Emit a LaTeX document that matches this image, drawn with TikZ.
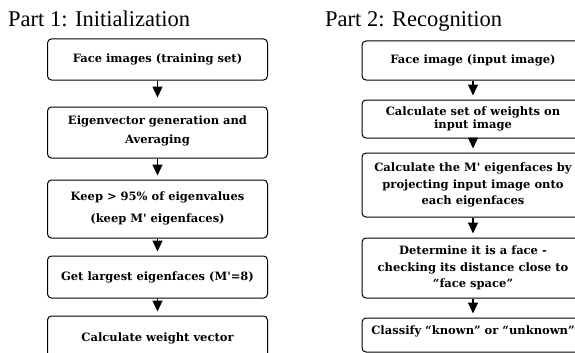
\documentclass[tikz,border=0pt]{standalone}
\usepackage{fontspec}
\setmainfont{Liberation Serif}
\newfontfamily\boxfont{DejaVu Serif}
\usetikzlibrary{arrows.meta}
\begin{document}
\begin{tikzpicture}[x=1pt,y=-1pt,
  titlestyle/.style={font=\fontsize{22.5}{24}\selectfont, anchor=base west, inner sep=0pt},
  boxstyle/.style={draw, line width=1pt, rounded corners=4pt, align=center,
    font=\boxfont\bfseries\fontsize{11.5}{16.5}\selectfont, inner sep=0pt},
  flowarrow/.style={line width=1.4pt, -{Triangle[width=10pt,length=11pt]}, shorten >=4pt}
]
\useasboundingbox (0,0) rectangle (575,353);
\clip (0,0) rectangle (575,353);

\node[titlestyle] (t1) at (8,27) {Part 1: Initialization};
\node[titlestyle] (t2) at (325,27) {Part 2: Recognition};

% left column
\node[boxstyle, minimum width=220pt, minimum height=41pt] (l1) at (157.5,59.5) {Face images (training set)};
\node[boxstyle, minimum width=220pt, minimum height=51pt] (l2) at (157.5,132.5) {\raisebox{6pt}{\shortstack{Eigenvector generation and\\[4pt]Averaging}}};
\node[boxstyle, minimum width=220pt, minimum height=58pt] (l3) at (157.5,209) {\raisebox{4pt}{\shortstack{Keep > 95\% of eigenvalues\\[7pt](keep M' eigenfaces)}}};
\node[boxstyle, minimum width=220pt, minimum height=42pt] (l4) at (157.5,277) {Get largest eigenfaces (M'=8)};
\node[boxstyle, minimum width=220pt, minimum height=44pt] (l5) at (157.5,338) {Calculate weight vector};

% right column
\node[boxstyle, minimum width=222pt, minimum height=39pt] (r1) at (473,60.5) {Face image (input image)};
\node[boxstyle, minimum width=222pt, minimum height=38pt] (r2) at (473,119) {Calculate set of weights on\\[-3.5pt]input image};
\node[boxstyle, minimum width=222pt, minimum height=64pt] (r3) at (473,185) {Calculate the M' eigenfaces by\\projecting input image onto\\each eigenfaces};
\node[boxstyle, minimum width=222pt, minimum height=60pt] (r4) at (473,268) {Determine it is a face -\\checking its distance close to\\“face space”};
\node[boxstyle, minimum width=222pt, minimum height=34pt] (r5) at (473,335) {\raisebox{10pt}{Classify “known” or “unknown”}};

\draw[flowarrow, shorten >=9pt] (l1) -- (l2);
\draw[flowarrow] (l2) -- (l3);
\draw[flowarrow] (l3) -- (l4);
\draw[flowarrow] (l4) -- (l5);
\draw[flowarrow] (r1) -- (r2);
\draw[flowarrow] (r2) -- (r3);
\draw[flowarrow] (r3) -- (r4);
\draw[flowarrow] (r4) -- (r5);
\end{tikzpicture}
\end{document}
